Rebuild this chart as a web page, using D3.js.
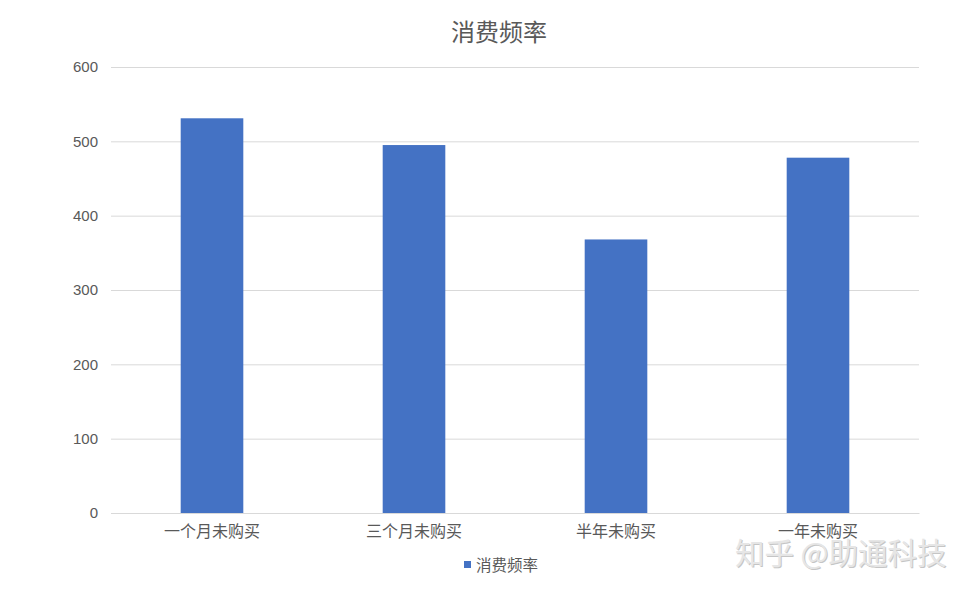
<!DOCTYPE html>
<html>
<head>
<meta charset="utf-8">
<script src="https://cdn.jsdelivr.net/npm/d3@7"></script>
<style>
  html, body { margin: 0; padding: 0; background: #fff; }
  svg { display: block; font-family: "Noto Sans CJK SC", "Noto Sans", sans-serif; }
</style>
</head>
<body>
<div id="chart"></div>
<script>
// values
var categories = ["一个月未购买", "三个月未购买", "半年未购买", "一年未购买"];
var values = [531, 495, 368, 478];
var yTicks = [0, 100, 200, 300, 400, 500, 600];
var seriesName = "消费频率";
var title = "消费频率";

(function () {
  var W = 971, H = 591;
  var m = { t: 67, r: 52, b: 78, l: 111 };
  var iw = W - m.l - m.r, ih = H - m.t - m.b;
  var svg = d3.select("#chart").append("svg").attr("width", W).attr("height", H);

  var x = d3.scaleBand().domain(categories).range([0, iw]).paddingInner(0.69).paddingOuter(0.345);
  var y = d3.scaleLinear().domain([0, 600]).range([ih, 0]);

  var g = svg.append("g").attr("transform", "translate(" + m.l + "," + m.t + ")");

  // gridlines + y labels
  var ya = g.append("g").call(d3.axisLeft(y).tickValues(yTicks).tickSize(-iw).tickPadding(13));
  ya.select(".domain").remove();
  ya.selectAll(".tick line").attr("stroke", "#d9d9d9");
  ya.selectAll(".tick text").attr("fill", "#595959").attr("font-size", 15)
    .attr("font-family", "'Liberation Sans', Arial, sans-serif");

  // bars
  g.selectAll("rect.bar").data(values).enter().append("rect").attr("class", "bar")
    .attr("x", function (d, i) { return x(categories[i]); })
    .attr("y", function (d) { return y(d); })
    .attr("width", x.bandwidth())
    .attr("height", function (d) { return ih - y(d); })
    .attr("fill", "#4472c4");

  // baseline + category labels
  var xa = g.append("g").attr("transform", "translate(0," + ih + ")")
    .call(d3.axisBottom(x).tickSize(0).tickPadding(13));
  xa.select(".domain").attr("stroke", "#d9d9d9");
  xa.selectAll(".tick text").attr("fill", "#595959").attr("font-size", 16)
    .attr("font-family", "'Noto Sans CJK SC', sans-serif");

  // title
  svg.append("text").attr("x", 499).attr("y", 41).attr("text-anchor", "middle")
    .attr("fill", "#595959").attr("font-size", 24).text(title);

  // legend
  svg.append("rect").attr("x", 464).attr("y", 561).attr("width", 7).attr("height", 7).attr("fill", "#4472c4");
  svg.append("text").attr("x", 476).attr("y", 571).attr("fill", "#595959").attr("font-size", 15.5).text(seriesName);

  // watermark
  svg.append("text").attr("x", 736).attr("y", 565).attr("fill", "#8c8c8c").attr("font-size", 29.5)
    .attr("opacity", 0.5).text("知乎 @助通科技");
  svg.append("text").attr("x", 735).attr("y", 564).attr("fill", "#e6e6e6").attr("font-size", 29.5)
    .text("知乎 @助通科技");
})();
</script>
</body>
</html>
